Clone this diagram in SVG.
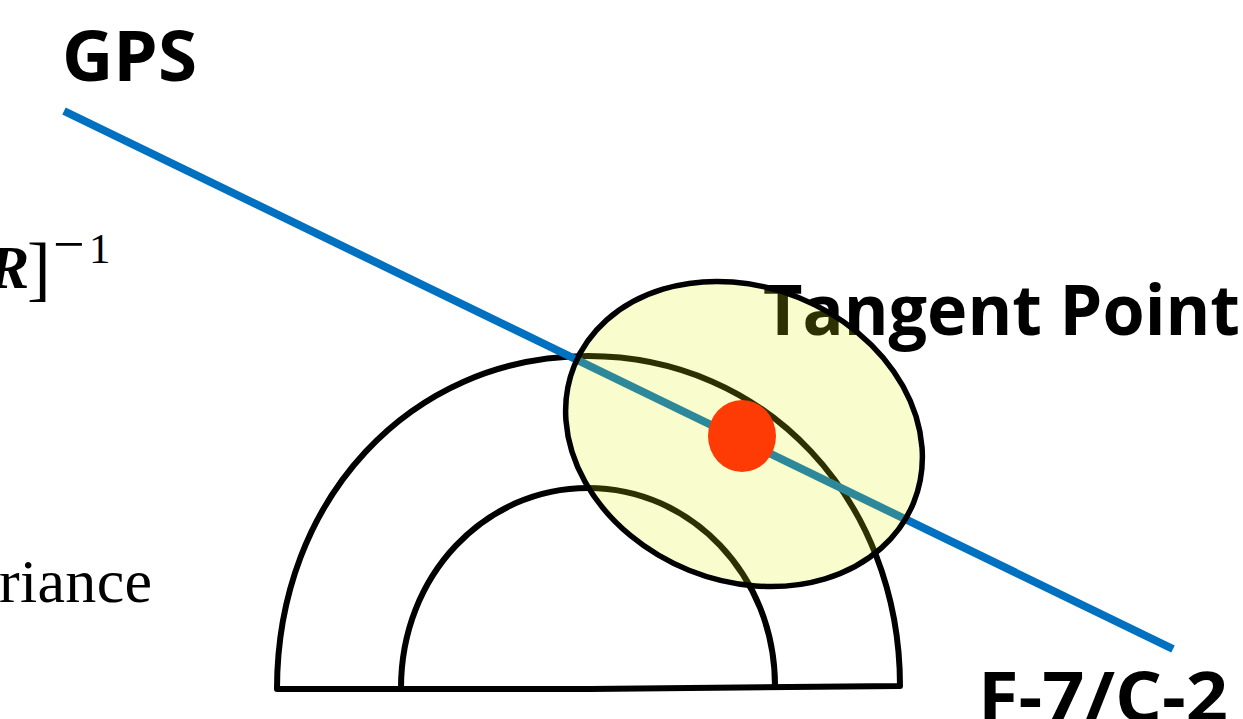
<svg xmlns="http://www.w3.org/2000/svg" width="1243" height="719" viewBox="0 0 1243 719">
<style>
.o{fill:none;stroke:#000;stroke-width:6;stroke-linejoin:round;stroke-linecap:round}
.b{font-family:"Open Sans","Noto Sans",sans-serif;font-weight:700;font-size:69px;fill:#000}
.s{font-family:"Liberation Serif",serif;fill:#000}
</style>
<rect width="1243" height="719" fill="#fff"/>
<g id="shell-outer"><path class="o" d="M277 689C277 500 410 356 588 356C766 356 900 500 900 686L590 689Z"/></g>
<g id="shell-inner"><path class="o" d="M401 688C401 575 485 488 588 488C691 488 775 575 775 686"/></g>
<g id="connectors"><line x1="64" y1="111" x2="1173" y2="649" stroke="#0070c0" stroke-width="8"/></g>
<g id="text-gps"><text class="b" x="62" y="81" textLength="135" lengthAdjust="spacingAndGlyphs">GPS</text></g>
<g id="text-tangent"><text class="b" x="763" y="335" textLength="477" lengthAdjust="spacingAndGlyphs">Tangent Point</text></g>
<g id="text-fc"><text class="b" x="978" y="722" textLength="250" lengthAdjust="spacingAndGlyphs">F-7/C-2</text></g>
<g id="tangent-ellipse"><ellipse cx="744" cy="434" rx="183" ry="147" transform="rotate(22 744 434)" fill="#e0f000" fill-opacity=".2" stroke="#000" stroke-width="5.5"/></g>
<g id="tangent-point"><ellipse cx="742" cy="436" rx="34" ry="36" fill="#ff3b05"/></g>
<g id="text-eq"><text class="s" x="-12" y="288" font-size="62" font-style="italic" font-weight="700">R</text><text class="s" x="27" y="292" font-size="71">]</text><text class="s" y="263"><tspan x="53" font-size="56">−</tspan><tspan x="89" font-size="43">1</tspan></text></g>
<g id="text-variance"><text class="s" x="-1" y="602" font-size="62" textLength="153">riance</text></g>
</svg>
